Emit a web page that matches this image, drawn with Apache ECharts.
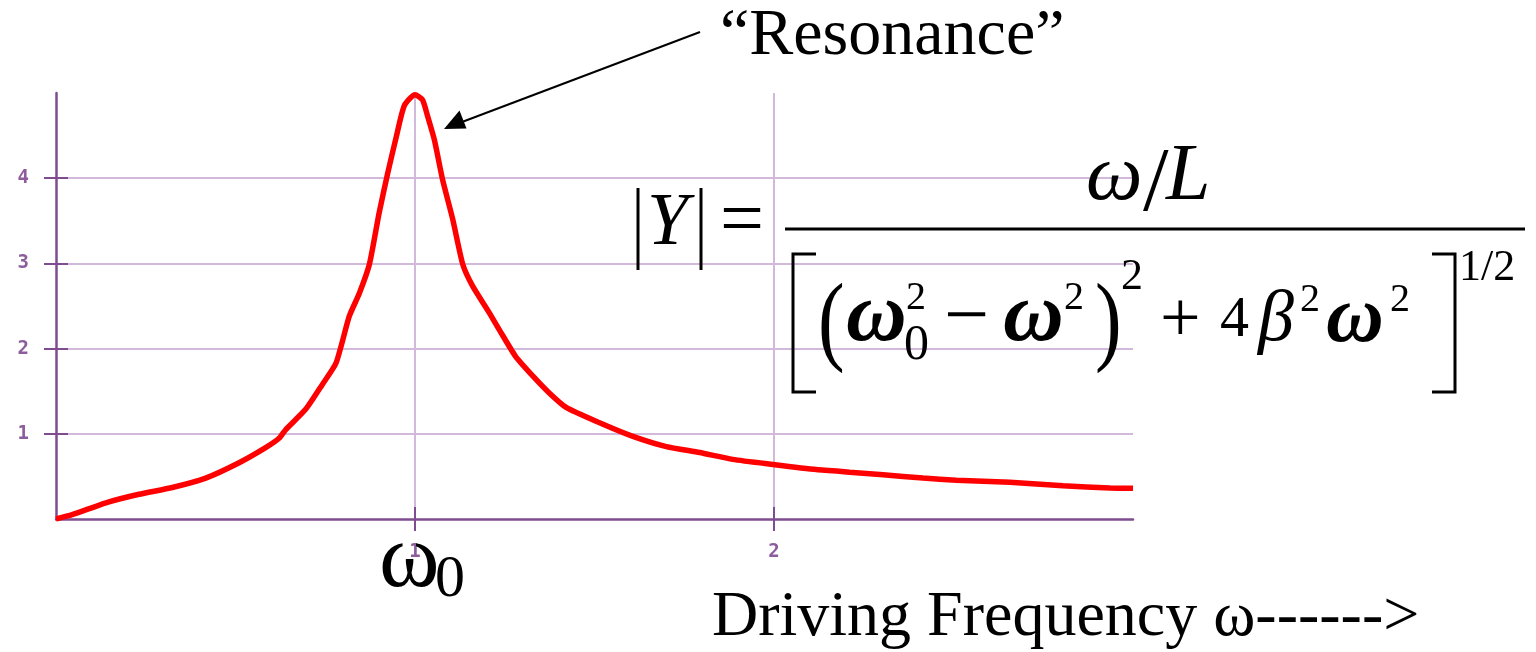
<!DOCTYPE html>
<html>
<head>
<meta charset="utf-8">
<script src="https://cdn.jsdelivr.net/npm/echarts@6/dist/echarts.min.js"></script>
<style>
  html, body { margin: 0; padding: 0; background: #ffffff; }
  #chart { width: 1536px; height: 652px; }
</style>
</head>
<body>
<div id="chart"></div>
<script>
// Driving frequency (in units of the natural frequency ω0)
const freq = [0, 0.045, 0.139, 0.231, 0.324, 0.417, 0.51, 0.585, 0.622, 0.64, 0.696,
  0.742, 0.78, 0.817, 0.845, 0.873, 0.90, 0.924, 0.947, 0.97, 1.0, 1.021, 1.035,
  1.054, 1.077, 1.105, 1.133, 1.161, 1.207, 1.235, 1.28, 1.328, 1.374, 1.421,
  1.514, 1.607, 1.70, 1.793, 1.885, 1.997, 2.118, 2.211, 2.304, 2.415, 2.508,
  2.657, 2.805, 2.936, 3.0];
// Response amplitude |Y|
const amplitude = [0, 0.05, 0.19, 0.29, 0.37, 0.48, 0.66, 0.84, 0.95, 1.05, 1.29,
  1.58, 1.83, 2.38, 2.65, 2.99, 3.59, 4.06, 4.47, 4.85, 4.98, 4.92, 4.73,
  4.45, 3.98, 3.52, 2.99, 2.73, 2.42, 2.22, 1.91, 1.68, 1.48, 1.31,
  1.13, 0.97, 0.85, 0.78, 0.70, 0.64, 0.58, 0.55, 0.52, 0.48, 0.455,
  0.43, 0.39, 0.365, 0.36];
const xTicks = [1, 2];
const yTicks = [1, 2, 3, 4];

const AXIS = '#7f4d8f';
const GRID = '#d2b8db';
const LABEL = '#8d5c9d';
const SERIF = '"Liberation Serif", "Times New Roman", serif';

const chart = echarts.init(document.getElementById('chart'), null, { renderer: 'canvas' });

function txt(text, x, y, font, extra) {
  return Object.assign({
    type: 'text', x: x, y: y, z: 100,
    style: {
      text: text, font: font, fill: '#000',
      align: 'left', verticalAlign: 'middle',
      textAlign: 'left', textVerticalAlign: 'middle'
    }
  }, extra || {});
}
function seg(points, w) {
  return {
    type: 'polyline', z: 100,
    shape: { points: points },
    style: { stroke: '#000', lineWidth: w, fill: null, lineCap: 'butt', lineJoin: 'miter' }
  };
}

const tickLabelStyle = { color: LABEL, fontSize: 19, fontWeight: 'bold', fontFamily: '"DejaVu Sans Mono", monospace' };

const option = {
  animation: false,
  backgroundColor: '#ffffff',
  grid: { left: 56, top: 93, width: 1077, height: 426, containLabel: false },
  xAxis: [{
    type: 'value', min: 0, max: 3, interval: 1,
    axisLine: { show: true, onZero: false, lineStyle: { color: AXIS, width: 2.5 } },
    axisTick: { show: true, inside: false, length: 12, customValues: xTicks, lineStyle: { color: AXIS, width: 2 } },
    axisLabel: Object.assign({ show: true, margin: 24, customValues: xTicks }, tickLabelStyle),
    splitLine: { show: true, lineStyle: { color: GRID, width: 2 } }
  }, {
    type: 'value', min: 0, max: 3, interval: 1, position: 'bottom',
    axisLine: { show: false },
    axisTick: { show: true, inside: true, length: 12, customValues: xTicks, lineStyle: { color: AXIS, width: 2 } },
    axisLabel: { show: false },
    splitLine: { show: false }
  }],
  yAxis: [{
    type: 'value', min: 0, max: 5, interval: 1,
    axisLine: { show: true, onZero: false, lineStyle: { color: AXIS, width: 2.5 } },
    axisTick: { show: true, inside: false, length: 12, customValues: yTicks, lineStyle: { color: AXIS, width: 2 } },
    axisLabel: Object.assign({ show: true, margin: 27, customValues: yTicks }, tickLabelStyle),
    splitLine: { show: true, lineStyle: { color: GRID, width: 2 } }
  }, {
    type: 'value', min: 0, max: 5, interval: 1, position: 'left',
    axisLine: { show: false },
    axisTick: { show: true, inside: true, length: 12, customValues: yTicks, lineStyle: { color: AXIS, width: 2 } },
    axisLabel: { show: false },
    splitLine: { show: false }
  }],
  series: [{
    type: 'line',
    xAxisIndex: 0, yAxisIndex: 0,
    data: freq.map((f, i) => [f, amplitude[i]]),
    showSymbol: false,
    smooth: 0.2,
    lineStyle: { color: '#ff0000', width: 5.5 },
    z: 5
  }],
  graphic: [
    // annotation for the peak
    txt('\u201CResonance\u201D', 720, 37, '66px ' + SERIF),
    seg([[700, 32], [462, 122]], 2),
    { type: 'polygon', z: 100, shape: { points: [[444, 129], [466.5, 128.5], [459.5, 110.5]] }, style: { fill: '#000' } },

    // |Y| =
    seg([[638, 188], [638, 270]], 3),
    txt('Y', 647, 225, 'italic 74px ' + SERIF),
    seg([[701, 188], [701, 270]], 3),
    txt('=', 720, 224, '78px ' + SERIF),
    // fraction bar
    seg([[785, 229], [1525, 229]], 3),
    // numerator  ω/L
    txt('\u03C9', 1086, 178, 'italic 80px ' + SERIF),
    txt('/', 1143, 186, '92px ' + SERIF),
    txt('L', 1166, 178, 'italic 80px ' + SERIF),

    // denominator
    seg([[816, 254], [793, 254], [793, 392], [816, 392]], 3),
    txt('(', 818, 326, '100px ' + SERIF, { scaleX: 0.8 }),
    txt('\u03C9', 846, 318, 'italic bold 84px ' + SERIF),
    txt('2', 906, 298, '40px ' + SERIF),
    txt('0', 904, 346, '50px ' + SERIF),
    txt('\u2212', 944, 320, '80px ' + SERIF),
    txt('\u03C9', 1003, 318, 'italic bold 84px ' + SERIF),
    txt('2', 1064, 298, '40px ' + SERIF),
    txt(')', 1095, 326, '100px ' + SERIF, { scaleX: 0.8 }),
    txt('2', 1121, 277, '44px ' + SERIF),
    txt('+', 1160, 322, '72px ' + SERIF),
    txt('4', 1220, 321, '58px ' + SERIF),
    txt('\u03B2', 1258, 321, 'italic 72px ' + SERIF),
    txt('2', 1300, 300, '40px ' + SERIF),
    txt('\u03C9', 1326, 320, 'italic bold 80px ' + SERIF),
    txt('2', 1390, 300, '40px ' + SERIF),
    seg([[1432, 254], [1455, 254], [1455, 392], [1432, 392]], 3),
    txt('1/2', 1459, 268, '44px ' + SERIF),

    // natural frequency marker under the axis
    txt('\u03C9', 379, 562, '92px ' + SERIF),
    txt('0', 435, 580, '60px ' + SERIF),

    // axis caption
    txt('Driving Frequency \u03C9------>', 712, 618, '64px ' + SERIF)
  ]
};
chart.setOption(option);
</script>
</body>
</html>
